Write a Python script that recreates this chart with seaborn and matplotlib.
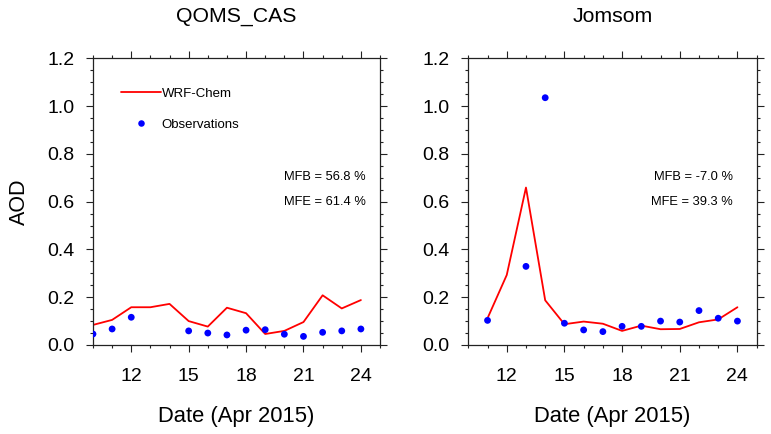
import matplotlib
matplotlib.use("Agg")
import matplotlib.pyplot as plt
from matplotlib.lines import Line2D
from matplotlib.ticker import MultipleLocator, FormatStrFormatter
import numpy as np
import pandas as pd
import seaborn as sns

# days of April 2015
days = list(range(10, 25))
nan = np.nan

# QOMS_CAS
qoms_model = [0.084, 0.105, 0.158, 0.158, 0.172, 0.100, 0.077, 0.156,
              0.133, 0.046, 0.059, 0.096, 0.208, 0.153, 0.188]
qoms_obs = [0.046, 0.067, 0.116, nan, nan, 0.059, 0.050, 0.042,
            0.062, 0.064, 0.045, 0.036, 0.053, 0.059, 0.067]

# Jomsom (no data on day 10)
jom_model = [nan, 0.112, 0.293, 0.659, 0.187, 0.087, 0.098, 0.089,
             0.059, 0.081, 0.066, 0.067, 0.095, 0.107, 0.158]
jom_obs = [nan, 0.103, nan, 0.329, 1.035, 0.091, 0.063, 0.056,
           0.078, 0.078, 0.100, 0.096, 0.144, 0.112, 0.100]

stations = ["QOMS_CAS", "Jomsom"]
stats = [("MFB = 56.8 %", "MFE = 61.4 %"), ("MFB = -7.0 %", "MFE = 39.3 %")]

sns.set_style("ticks")
plt.rcParams['font.family'] = ['Liberation Sans', 'DejaVu Sans']
plt.rcParams.update({"text.color": "black", "axes.labelcolor": "black",
                     "xtick.color": "black", "ytick.color": "black"})

fig = plt.figure(figsize=(7.71, 4.34), dpi=100)
ax1 = fig.add_axes([0.1206, 0.2051, 0.3723, 0.6606])
ax2 = fig.add_axes([0.6074, 0.2051, 0.3740, 0.6606])

data = [(qoms_model, qoms_obs), (jom_model, jom_obs)]
text_x = [0.95, 0.918]

for i, ax in enumerate([ax1, ax2]):
    df = pd.DataFrame({"day": days, "model": data[i][0], "obs": data[i][1]})
    sns.lineplot(data=df.dropna(subset=["model"]), x="day", y="model", ax=ax,
                 color="#ff0000", linewidth=1.3)
    sns.scatterplot(data=df.dropna(subset=["obs"]), x="day", y="obs", ax=ax,
                    color="#0000ff", s=24, edgecolor="none", zorder=3)

    ax.set_xlim(10, 25)
    ax.set_ylim(0, 1.2)
    ax.xaxis.set_major_locator(MultipleLocator(3))
    ax.xaxis.set_minor_locator(MultipleLocator(1))
    ax.yaxis.set_major_locator(MultipleLocator(0.2))
    ax.yaxis.set_minor_locator(MultipleLocator(0.05))
    ax.yaxis.set_major_formatter(FormatStrFormatter('%.1f'))
    ax.set_xticks([12, 15, 18, 21, 24])

    ax.tick_params(which="both", direction="out", top=True, right=True,
                   labeltop=False, labelright=False, width=0.8, color="#222222")
    ax.tick_params(which="major", length=5, labelsize=14)
    ax.tick_params(axis="x", which="major", pad=11.5)
    ax.tick_params(axis="y", which="major", pad=8.5)
    ax.tick_params(which="minor", length=2.5)
    for sp in ax.spines.values():
        sp.set_linewidth(0.9)
        sp.set_color("#222222")

    ax.set_title(stations[i], fontsize=15.3, pad=26)
    ax.set_xlabel("Date (Apr 2015)", fontsize=15.8, labelpad=15)
    ax.set_ylabel("")

    ax.text(text_x[i], 0.587, stats[i][0], transform=ax.transAxes,
            ha="right", va="center", fontsize=9.3)
    ax.text(text_x[i], 0.500, stats[i][1], transform=ax.transAxes,
            ha="right", va="center", fontsize=9.3)

ax1.set_ylabel("AOD", fontsize=15.5, labelpad=12)

# legend
handles = [Line2D([], [], color="#ff0000", linewidth=1.3),
           Line2D([], [], color="#0000ff", marker="o", linestyle="none",
                  markersize=4.7, markeredgewidth=0)]
ax1.legend(handles, ["WRF-Chem", "Observations"], loc="upper left",
           bbox_to_anchor=(0.097, 0.897), frameon=False, fontsize=9.5,
           handlelength=3.05, handletextpad=0.05, labelspacing=1.4,
           borderpad=0, borderaxespad=0)

fig.savefig("out.png", dpi=100)
